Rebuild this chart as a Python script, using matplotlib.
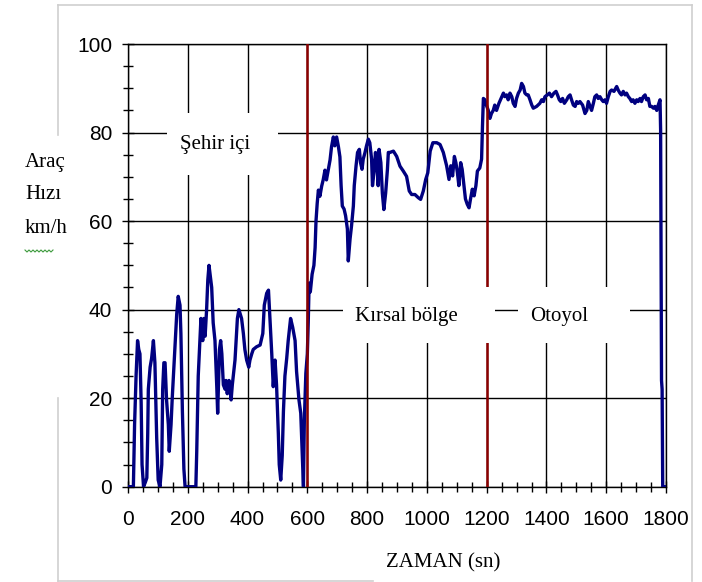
import matplotlib.pyplot as plt
import numpy as np
from matplotlib import font_manager
from matplotlib.lines import Line2D
from matplotlib.patches import Rectangle
from matplotlib.ticker import MultipleLocator

# (zaman sn, hiz km/h) okumalari, bolge bolge
sehir_olcum = [
    (0, 0), (18, 0), (22, 14), (27, 25), (32, 33), (36, 31), (40, 30), (44, 19), (47, 5), (52, 0),
    (58, 1), (63, 2), (66, 12), (68, 22), (74, 27), (79, 29), (85, 33), (90, 28), (96, 11), (101, 1.5),
    (107, 0), (113, 5), (116, 22), (120, 28), (124, 28), (129, 19.6), (135, 14), (138, 8), (144, 14),
    (148, 20), (152, 25), (157, 31.6), (163, 39), (168, 43), (174, 41), (177, 34.6), (182, 17), (187, 4),
    (191, 0), (227, 0), (230, 8), (235, 25), (241, 34), (244, 38), (250, 33), (254, 38), (258, 34),
    (263, 40), (267, 46.7), (271, 50), (277, 46.7), (280, 45), (285, 37), (291, 33), (297, 22.6),
    (300, 16.6), (306, 31), (310, 33), (314, 30), (319, 23), (325, 22), (328, 24), (332, 21), (338, 24),
    (345, 19.6), (349, 23), (358, 28.6), (366, 38), (371, 40), (380, 38), (386, 34.6), (391, 31),
    (397, 28.6), (404, 27), (408, 28.6), (414, 30), (419, 31), (430, 31.6), (442, 32), (451, 34.6),
    (456, 41), (464, 43.7), (470, 44.4), (475, 38), (481, 30), (486, 22.6), (492, 28.6), (497, 23),
    (503, 12), (506, 5), (511, 1.5), (516, 7), (520, 17), (525, 25), (531, 29), (536, 33), (544, 38),
    (551, 36), (559, 33), (564, 26), (572, 19.6), (578, 16.6), (583, 7), (587, 0), (590, 15), (595, 25.6),
]
kirsal_olcum = [
    (600, 30), (603, 37), (606, 46), (610, 44), (616, 48), (622, 50), (626, 54), (629, 60), (633, 64),
    (637, 67), (642, 65.6), (648, 67.9), (653, 69.3), (659, 71.5), (664, 69.3), (670, 71.5), (676, 73.8),
    (681, 76.8), (687, 79), (692, 77), (698, 79), (704, 76.8), (709, 74.5), (713, 68), (717, 63.4),
    (723, 62.7), (728, 61.2), (734, 58.2), (737, 51), (743, 56), (748, 59), (754, 63.4), (757, 68),
    (763, 72.5), (768, 75.5), (774, 76.2), (778, 73.2), (783, 71.7), (787, 74), (793, 75.5), (798, 77),
    (804, 78.5), (809, 77.7), (815, 74), (818, 68), (823, 71), (828, 75.5), (834, 71.7), (837, 68),
    (840, 76.2), (846, 73.2), (851, 66.3), (856, 62.6), (862, 66.3), (868, 71.7), (871, 75.5),
    (876, 75.5), (888, 75.8), (899, 74.6), (910, 72.4), (921, 71.3), (932, 70.1), (941, 66.8), (949, 66),
    (960, 66), (971, 65.3), (979, 64.9), (988, 66.8), (996, 69.4), (1003, 70.9), (1011, 75.8),
    (1020, 77.7), (1033, 77.7), (1044, 77.3), (1055, 75.5), (1066, 72.5), (1074, 69.4), (1080, 72.5),
    (1086, 70.2), (1092, 74.6), (1097, 73.2), (1102, 71), (1107, 68), (1113, 73.2), (1118, 71.7),
    (1124, 68), (1129, 65), (1135, 63.8), (1141, 63), (1146, 65), (1152, 67.2), (1158, 65.7), (1164, 68),
    (1169, 71.3), (1177, 72), (1183, 74), (1186, 81.5), (1189, 87.7), (1194, 87.4),
]
otoyol_olcum = [
    (1200, 86), (1205, 85.1), (1211, 83.2), (1216, 84.3), (1222, 85), (1227, 86.2), (1233, 85),
    (1241, 86.6), (1248, 87.7), (1256, 88.9), (1261, 88.1), (1267, 88.5), (1272, 87.4), (1278, 88.9),
    (1284, 88.1), (1289, 86.6), (1295, 85.9), (1300, 87.7), (1306, 88.9), (1312, 89.6), (1317, 91.1),
    (1323, 90.4), (1328, 88.9), (1334, 88.5), (1339, 88.5), (1345, 87.4), (1351, 86.2), (1356, 85.5),
    (1367, 85.9), (1378, 86.6), (1384, 87.4), (1390, 87), (1395, 88.1), (1403, 88.5), (1410, 88.9),
    (1417, 88.1), (1425, 88.9), (1432, 89.3), (1437, 88.5), (1443, 87.4), (1448, 87), (1454, 87.7),
    (1460, 86.6), (1468, 87.4), (1473, 88.1), (1479, 88.5), (1484, 87.4), (1490, 86.2), (1496, 85.9),
    (1501, 87), (1507, 86.6), (1512, 87), (1521, 86.2), (1529, 84.3), (1535, 85), (1540, 87),
    (1546, 85.9), (1551, 85), (1557, 86.6), (1562, 88.1), (1568, 88.5), (1573, 87.7), (1579, 88.1),
    (1585, 87.4), (1590, 87), (1596, 87.4), (1601, 86.6), (1607, 88.1), (1613, 89.3), (1618, 89.6),
    (1626, 89.3), (1635, 90.4), (1640, 89.6), (1646, 88.9), (1651, 88.5), (1657, 89.3), (1663, 88.5),
    (1668, 88.9), (1674, 88.1), (1679, 87.7), (1685, 87), (1690, 87.4), (1696, 86.6), (1702, 87.4),
    (1707, 87), (1713, 87.7), (1718, 87), (1724, 88.1), (1730, 88.5), (1735, 87.4), (1741, 87.7),
    (1746, 85.9), (1752, 85.9), (1758, 85.5), (1763, 85.9), (1769, 85), (1774, 86.2), (1780, 87.4),
    (1782, 80.5), (1785, 24), (1787, 22), (1789, 0), (1800, 0),
]
bolge_sinirlari = [600, 1200]
bolge_adlari = ['Şehir içi', 'Kırsal bölge', 'Otoyol']

zaman, hiz = zip(*(sehir_olcum + kirsal_olcum + otoyol_olcum))

# dar yazi tipi varsa tick etiketleri icin onu kullan
mevcut = {f.name for f in font_manager.fontManager.ttflist}
if 'Liberation Sans Narrow' in mevcut:
    tick_font, tick_size = 'Liberation Sans Narrow', 17
else:
    tick_font, tick_size = 'Liberation Sans', 15
serif = 'Liberation Serif'

fig = plt.figure(figsize=(7.02, 5.82), dpi=100)
ax = fig.add_axes([128 / 702, 1 - 486.7 / 582, 538 / 702, 442.7 / 582])

ax.plot(zaman, hiz, color='#000080', lw=2.4, zorder=3)
for s in bolge_sinirlari:
    ax.axvline(s, color='#8b0000', lw=1.8, zorder=4)

ax.set_xlim(0, 1800)
ax.set_ylim(0, 100)
ax.xaxis.set_major_locator(MultipleLocator(200))
ax.xaxis.set_minor_locator(MultipleLocator(50))
ax.yaxis.set_major_locator(MultipleLocator(20))
ax.yaxis.set_minor_locator(MultipleLocator(5))
ax.grid(which='major', color='black', lw=1.0)
for sp in ax.spines.values():
    sp.set_linewidth(1.0)
ax.tick_params(which='both', direction='inout', width=1.0, color='black')
ax.tick_params(which='major', length=9)
ax.tick_params(which='minor', length=7)
ax.tick_params(axis='x', pad=12)
ax.tick_params(axis='y', pad=7)
for lab in ax.get_xticklabels() + ax.get_yticklabels():
    lab.set_fontfamily(tick_font)
    lab.set_fontsize(tick_size)

# bolge etiketleri: beyaz kutular cizgileri ortuyor
kutular = [(130, 70.4, 372, 14), (719, 32.4, 509, 12.7), (1305, 32.4, 374, 12.7)]
yerler = [(291, 77.3), (933, 38.4), (1442, 38.4)]
for (x0, y0, w, h), (tx, ty), ad in zip(kutular, yerler, bolge_adlari):
    ax.add_patch(Rectangle((x0, y0), w, h, fc='white', ec='none', zorder=5))
    ax.text(tx, ty, ad, family=serif, fontsize=15, ha='center', va='center', zorder=6)

# sekil cercevesi (acik gri)
gri = '#cfcfcf'
def px(x, y):
    return x / 702, 1 - y / 582
for seg in [[(58, 5), (692, 5)], [(692, 5), (692, 581)], [(58, 5), (58, 135)],
            [(58, 398), (58, 581)], [(58, 581), (373, 581)]]:
    (x1, y1), (x2, y2) = px(*seg[0]), px(*seg[1])
    fig.add_artist(Line2D([x1, x2], [y1, y2], transform=fig.transFigure, color=gri, lw=1.2))

# eksen basliklari
for satir, yy in zip(['Araç', 'Hızı', 'km/h'], [163, 195, 229]):
    fig.text(25 / 702, 1 - yy / 582, satir, family=serif, fontsize=15, ha='left', va='center')
zz = np.array([0, 1, 0, 1, 0, 1, 0, 1, 0, 1, 0, 1, 0, 1, 0])
fig.add_artist(Line2D((25 + np.arange(len(zz)) * 2) / 702, 1 - (250 + zz * 2) / 582,
                      transform=fig.transFigure, color='#3c9a3c', lw=0.8))
fig.text(443 / 702, 1 - 563 / 582, 'ZAMAN (sn)', family=serif, fontsize=15, ha='center', va='center')

fig.savefig('out.png', dpi=100)
